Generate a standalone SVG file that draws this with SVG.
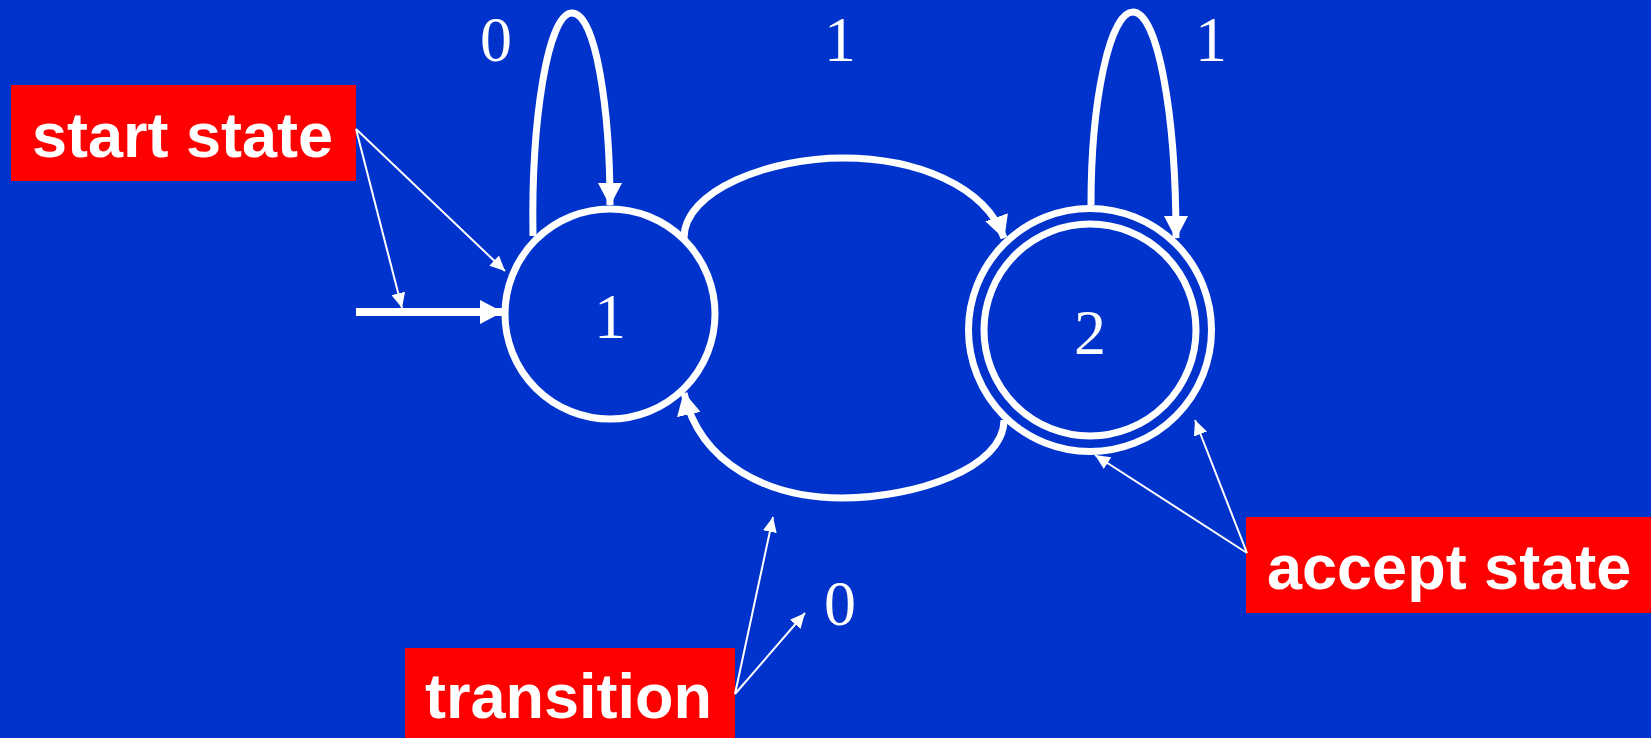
<svg xmlns="http://www.w3.org/2000/svg" width="1651" height="738" viewBox="0 0 1651 738">
  <defs>
    <marker id="big" markerUnits="userSpaceOnUse" viewBox="0 0 23 24" refX="22" refY="12" markerWidth="23" markerHeight="24" orient="auto">
      <path d="M0,0 L23,12 L0,24 z" fill="#ffffff"/>
    </marker>
    <marker id="small" markerUnits="userSpaceOnUse" viewBox="0 0 15 14" refX="15" refY="7" markerWidth="15" markerHeight="14" orient="auto">
      <path d="M0,0 L15,7 L0,14 z" fill="#ffffff"/>
    </marker>
  </defs>
  <style>
    .state { fill: none; stroke: #ffffff; stroke-width: 7; }
    .edge { fill: none; stroke: #ffffff; stroke-width: 7; marker-end: url(#big); }
    .ptr { fill: none; stroke: #ffffff; stroke-width: 2; marker-end: url(#small); }
    .num { font-family: "Liberation Serif", "Times New Roman", serif; font-size: 64px; fill: #ffffff; text-anchor: middle; }
    .tag { fill: #ff0000; }
    .tagtext { font-family: "Liberation Sans", Arial, sans-serif; font-weight: bold; font-size: 63px; fill: #ffffff; }
  </style>
  <rect x="0" y="0" width="1651" height="738" fill="#0033cc"/>

  <g id="connectors">
    <path class="edge" d="M 533 236 C 531 120, 548 13, 572 13 C 596 13, 610 110, 610 205"/>
    <path class="edge" d="M 1091 205 C 1091 100, 1110 12, 1133 12 C 1157 12, 1176 110, 1176 238"/>
    <path class="edge" d="M 684 238 C 684 190, 770 158, 843 158 C 915 158, 985 185, 1004 238"/>
    <path class="edge" d="M 1004 420 C 1004 468, 915 498, 842 498 C 770 498, 700 465, 684 393"/>
    <path class="edge" d="M 356 312 L 502 312" style="stroke-width:8"/>
  </g>

  <g id="state1">
    <circle class="state" cx="610" cy="314" r="105"/>
    <text class="num" x="610" y="338">1</text>
  </g>

  <g id="state2">
    <circle class="state" cx="1090" cy="330" r="121.5"/>
    <circle class="state" cx="1090" cy="330" r="106"/>
    <text class="num" x="1090" y="354">2</text>
  </g>

  <g id="edge-labels">
    <text class="num" x="496" y="61">0</text>
    <text class="num" x="840" y="61">1</text>
    <text class="num" x="1211" y="61">1</text>
    <text class="num" x="840" y="625">0</text>
  </g>

  <g id="start-state-label">
    <rect class="tag" x="11" y="85" width="345" height="96"/>
    <text class="tagtext" x="32" y="157">start state</text>
    <path class="ptr" d="M 356 129 L 505 271"/>
    <path class="ptr" d="M 356 129 L 402 308"/>
  </g>

  <g id="transition-label">
    <rect class="tag" x="405" y="648" width="330" height="92"/>
    <text class="tagtext" x="425" y="718">transition</text>
    <path class="ptr" d="M 735 694 L 773 517"/>
    <path class="ptr" d="M 735 694 L 805 613"/>
  </g>

  <g id="accept-state-label">
    <rect class="tag" x="1246" y="517" width="405" height="96"/>
    <text class="tagtext" x="1267" y="589">accept state</text>
    <path class="ptr" d="M 1247 553 L 1095 455"/>
    <path class="ptr" d="M 1247 553 L 1195 420"/>
  </g>
</svg>
